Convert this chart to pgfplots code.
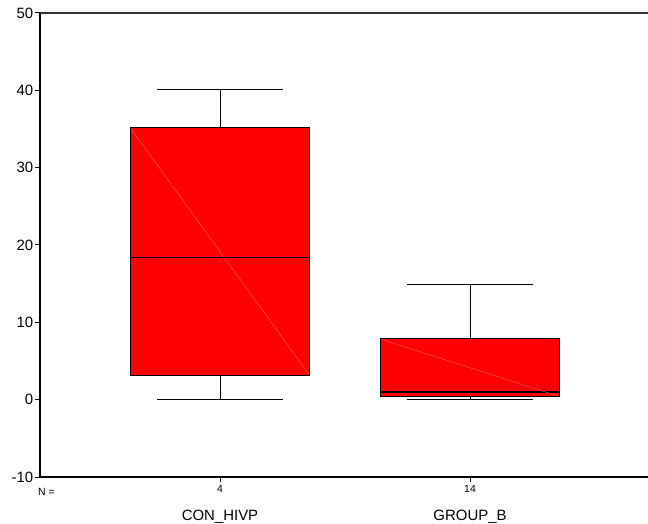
\documentclass[border=0pt]{standalone}
\usepackage{fontspec}
\setmainfont{Liberation Sans}
\usepackage{pgfplots}
\pgfplotsset{compat=1.18}
\usepgfplotslibrary{statistics}
\begin{document}
\begin{tikzpicture}
\begin{axis}[
 at={(0,0)}, anchor=south west,
 scale only axis, width=608bp, height=464bp,
 xmin=0.28, xmax=2.712, ymin=-10, ymax=50,
 axis x line*=bottom, axis y line*=left,
 x axis line style={line width=1.7bp, black},
 y axis line style={line width=1.4bp, black},
 ytick={-10,0,...,50},
 xtick={1,2}, xticklabels={4,14},
 tick align=outside, major tick length=5bp,
 tick style={black, line width=1bp},
 /pgf/number format/assume math mode=true,
 yticklabel style={font=\fontsize{15}{17}\selectfont, inner sep=1.5bp},
 xticklabel style={font=\fontsize{10.5}{12}\selectfont, inner sep=3bp},
 boxplot/draw direction=y,
 boxplot/every median/.style={line width=1.5bp, black},
 clip=false,
]
\addplot+[boxplot prepared={draw direction=y, lower whisker=0, lower quartile=3.1, median=18.4, upper quartile=35.2, upper whisker=40.1, draw position=1, box extend=0.716, whisker extend=0.504}, fill=red, draw=black, solid, mark=none, line width=1bp] coordinates {};
\addplot[draw={rgb,255:red,255;green,110;blue,110}, line width=0.35bp] coordinates {(0.645,35.0) (1.355,3.3)};
\addplot[black, line width=1.5bp] coordinates {(0.642,18.4) (1.358,18.4)};
\addplot+[boxplot prepared={draw direction=y, lower whisker=0, lower quartile=0.4, median=1.0, upper quartile=7.9, upper whisker=14.95, draw position=2, box extend=0.716, whisker extend=0.504}, fill=red, draw=black, solid, mark=none, line width=1bp] coordinates {};
\addplot[draw={rgb,255:red,255;green,110;blue,110}, line width=0.35bp] coordinates {(1.645,7.8) (2.355,0.45)};
\draw[line width=1.4bp, black!80] (rel axis cs:0,1) -- (rel axis cs:1,1);
\node[anchor=base west, font=\fontsize{10.5}{12}\selectfont, inner sep=0pt] at ([xshift=-2bp,yshift=-18bp]rel axis cs:0,0) {N =};
\node[anchor=base, font=\fontsize{15}{17}\selectfont, inner sep=0pt] at ([yshift=-43bp]axis cs:1,-10) {CON\_HIVP};
\node[anchor=base, font=\fontsize{15}{17}\selectfont, inner sep=0pt] at ([yshift=-43bp]axis cs:2,-10) {GROUP\_B};
\end{axis}
\pgfresetboundingbox
\path (-40bp,-47bp) rectangle (608bp,477bp);
\end{tikzpicture}
\end{document}
